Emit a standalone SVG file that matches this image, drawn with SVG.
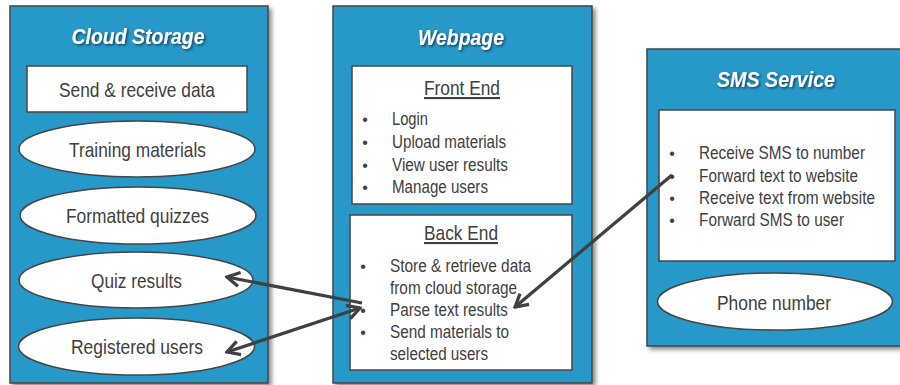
<svg xmlns="http://www.w3.org/2000/svg" width="900" height="385" viewBox="0 0 900 385">
  <defs>
    <filter id="panelShadow" x="-5%" y="-5%" width="115%" height="115%">
      <feDropShadow dx="3" dy="3" stdDeviation="2" flood-color="#000" flood-opacity="0.45"/>
    </filter>
    <filter id="titleShadow" x="-10%" y="-30%" width="120%" height="160%">
      <feDropShadow dx="1.5" dy="1.5" stdDeviation="0.8" flood-color="#0b2a40" flood-opacity="0.75"/>
    </filter>
    <marker id="head" viewBox="-16 -9 18 18" refX="0" refY="0" markerWidth="18" markerHeight="18" markerUnits="userSpaceOnUse" orient="auto-start-reverse">
      <path d="M-12.5,-7 L0,0 L-12.5,7" fill="none" stroke="#404040" stroke-width="3.3" stroke-linejoin="miter"/>
    </marker>
  </defs>
  <style>
    .panel { fill: #2899c8; stroke: #454545; stroke-width: 1.5; filter: url(#panelShadow); }
    .box { fill: #ffffff; stroke: #454545; stroke-width: 1.5; }
    .title { font-family: "Liberation Sans", Arial, sans-serif; font-size: 22px; font-weight: bold; font-style: italic; fill: #ffffff; text-anchor: middle; filter: url(#titleShadow); }
    .label { font-family: "Liberation Sans", Arial, sans-serif; font-size: 21px; fill: #404040; text-anchor: middle; }
    .item { font-family: "Liberation Sans", Arial, sans-serif; font-size: 17.5px; fill: #404040; }
    .dot { font-family: "Liberation Sans", Arial, sans-serif; font-size: 16px; fill: #404040; text-anchor: middle; }
    .link { fill: none; stroke: #404040; stroke-width: 3.3; }
  </style>

  <rect width="900" height="385" fill="#ffffff"/>

  <!-- Cloud Storage -->
  <g id="cloud-storage">
    <rect class="panel" x="10" y="6" width="258" height="377"/>
    <text class="title" x="138" y="44" textLength="133" lengthAdjust="spacingAndGlyphs">Cloud Storage</text>
    <g id="send-receive">
      <rect class="box" x="27" y="66" width="220" height="46"/>
      <text class="label" x="137" y="97" textLength="156" lengthAdjust="spacingAndGlyphs">Send &amp; receive data</text>
    </g>
    <g id="training-materials">
      <ellipse class="box" cx="137" cy="149" rx="118" ry="28"/>
      <text class="label" x="137.5" y="157" textLength="137" lengthAdjust="spacingAndGlyphs">Training materials</text>
    </g>
    <g id="formatted-quizzes">
      <ellipse class="box" cx="138" cy="215.5" rx="118" ry="28.5"/>
      <text class="label" x="137.5" y="223" textLength="143" lengthAdjust="spacingAndGlyphs">Formatted quizzes</text>
    </g>
    <g id="quiz-results">
      <ellipse class="box" cx="136" cy="280" rx="117" ry="28"/>
      <text class="label" x="136.5" y="288" textLength="91" lengthAdjust="spacingAndGlyphs">Quiz results</text>
    </g>
    <g id="registered-users">
      <ellipse class="box" cx="136.5" cy="346.5" rx="118" ry="28.5"/>
      <text class="label" x="137" y="354" textLength="132" lengthAdjust="spacingAndGlyphs">Registered users</text>
    </g>
  </g>

  <!-- Webpage -->
  <g id="webpage">
    <rect class="panel" x="333" y="6" width="259" height="377"/>
    <text class="title" x="461" y="45" textLength="86" lengthAdjust="spacingAndGlyphs">Webpage</text>
    <g id="front-end">
      <rect class="box" x="352" y="66" width="220" height="138"/>
      <text class="label" x="462" y="95" textLength="76" lengthAdjust="spacingAndGlyphs" text-decoration="underline">Front End</text>
      <text class="dot" x="365" y="125">•</text>
      <text class="item" x="392" y="125" textLength="36" lengthAdjust="spacingAndGlyphs">Login</text>
      <text class="dot" x="365" y="148">•</text>
      <text class="item" x="392" y="148" textLength="114" lengthAdjust="spacingAndGlyphs">Upload materials</text>
      <text class="dot" x="365" y="171">•</text>
      <text class="item" x="392" y="171" textLength="116" lengthAdjust="spacingAndGlyphs">View user results</text>
      <text class="dot" x="365" y="193">•</text>
      <text class="item" x="392" y="193" textLength="96" lengthAdjust="spacingAndGlyphs">Manage users</text>
    </g>
    <g id="back-end">
      <rect class="box" x="350" y="215" width="222" height="155"/>
      <text class="label" x="461" y="240" textLength="74" lengthAdjust="spacingAndGlyphs" text-decoration="underline">Back End</text>
      <text class="dot" x="363" y="272">•</text>
      <text class="item" x="390" y="272" textLength="141" lengthAdjust="spacingAndGlyphs">Store &amp; retrieve data</text>
      <text class="item" x="390" y="294" textLength="127" lengthAdjust="spacingAndGlyphs">from cloud storage</text>
      <text class="dot" x="363" y="316">•</text>
      <text class="item" x="390" y="316" textLength="118" lengthAdjust="spacingAndGlyphs">Parse text results</text>
      <text class="dot" x="363" y="338">•</text>
      <text class="item" x="390" y="338" textLength="119" lengthAdjust="spacingAndGlyphs">Send materials to</text>
      <text class="item" x="390" y="360" textLength="98" lengthAdjust="spacingAndGlyphs">selected users</text>
    </g>
  </g>

  <!-- SMS Service -->
  <g id="sms-service">
    <rect class="panel" x="647" y="49" width="262" height="297"/>
    <text class="title" x="776" y="87" textLength="118" lengthAdjust="spacingAndGlyphs">SMS Service</text>
    <g id="sms-functions">
      <rect class="box" x="659" y="110" width="236" height="151"/>
      <text class="dot" x="672" y="159">•</text>
      <text class="item" x="699" y="159" textLength="166" lengthAdjust="spacingAndGlyphs">Receive SMS to number</text>
      <text class="dot" x="672" y="182">•</text>
      <text class="item" x="699" y="182" textLength="159" lengthAdjust="spacingAndGlyphs">Forward text to website</text>
      <text class="dot" x="672" y="204">•</text>
      <text class="item" x="699" y="204" textLength="176" lengthAdjust="spacingAndGlyphs">Receive text from website</text>
      <text class="dot" x="672" y="226">•</text>
      <text class="item" x="699" y="226" textLength="145" lengthAdjust="spacingAndGlyphs">Forward SMS to user</text>
    </g>
    <g id="phone-number">
      <ellipse class="box" cx="775" cy="301.5" rx="117.5" ry="28.5"/>
      <text class="label" x="774" y="310" textLength="114" lengthAdjust="spacingAndGlyphs">Phone number</text>
    </g>
  </g>

  <!-- Connectors -->
  <g id="connectors">
    <path class="link" d="M362,303 L227,277" marker-end="url(#head)"/>
    <path class="link" d="M227,352 L360,308" marker-start="url(#head)" marker-end="url(#head)"/>
    <path class="link" d="M672,175 L515,307" marker-end="url(#head)"/>
  </g>
</svg>
